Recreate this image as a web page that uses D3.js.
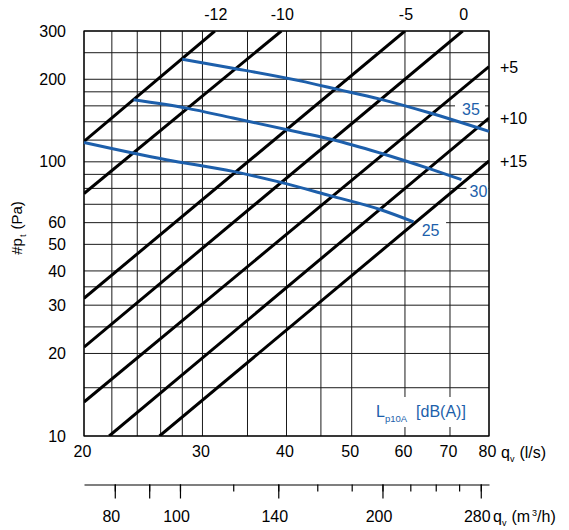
<!DOCTYPE html>
<html>
<head>
<meta charset="utf-8">
<script src="https://cdn.jsdelivr.net/npm/d3@7"></script>
<style>
body { margin: 0; background: #fff; }
text { font-family: "Liberation Sans", Arial, sans-serif; }
</style>
</head>
<body>
<svg id="chart" width="569" height="530"></svg>
<script>
// flow (l/s) and pressure (Pa) ticks / grid
const qTicks = [20, 30, 40, 50, 60, 70, 80]
const qGrid = [20, 22, 24, 26, 28, 30, 35, 40, 45, 50, 60, 70, 80]
const pTicks = [10, 20, 30, 40, 50, 60, 100, 200, 300]
const pGrid = [10, 15, 20, 25, 30, 35, 40, 50, 60, 70, 80, 90, 100, 120, 140, 160, 180, 200, 250, 300]
// second axis in m3/h
const m3Ticks = [80, 90, 100, 120, 140, 160, 180, 200, 220, 240, 260, 280]
const m3Major = [80, 90, 100, 140, 200, 280]
const m3Labels = [80, 100, 140, 200, 280]

// damper setting lines, [q, dp] start and end
const damperNames = ["-12", "-10", "-5", "0", "+5", "+10", "+15"]
const damperStart = [[20, 118.7], [20, 76.6], [20, 31.8], [20, 21.1], [20, 13.3], [21.8, 10], [25.9, 10]]
const damperEnd = [[31.3, 300], [39.3, 300], [60.0, 300], [73.1, 300], [80, 222.5], [80, 144.4], [80, 100.7]]

// sound level curves Lp10A
const soundNames = ["35", "30", "25"]
const sound35 = [[28.0, 236.6], [33.3, 219.5], [41.9, 197.3], [47.5, 184.1], [55.1, 169.3], [65.4, 150.6], [80, 129.1]]
const sound30 = [[23.7, 168.3], [28.4, 157.0], [33.3, 144.4], [41.9, 128.0], [46.9, 120.4], [55.1, 107.7], [65.4, 94.2], [72.8, 86.1]]
const sound25 = [[20, 117.7], [26.5, 101.8], [33.3, 92.3], [39.1, 84.3], [46.4, 75.3], [55.1, 67.0], [61.8, 60.4]]

const blue = "#1d5fab"
const fs = 16
const svg = d3.select("#chart")
const L = 84, R = 489, T = 31, B = 436

const x = d3.scaleLog().domain([20, 80]).range([L, R])
const y = d3.scaleLog().domain([10, 300]).range([B, T])
const x3 = d3.scaleLog().domain([20 * 3.6, 80 * 3.6]).range([L, R])

svg.append("clipPath").attr("id", "plot")
  .append("rect").attr("x", L).attr("y", T).attr("width", R - L).attr("height", B - T)

// grid
const grid = svg.append("g").attr("stroke", "#1a1a1a").attr("stroke-width", 1)
grid.selectAll(".vg").data(qGrid).join("line")
  .attr("x1", d => x(d)).attr("x2", d => x(d))
  .attr("y1", T).attr("y2", B)
grid.selectAll(".hg").data(pGrid).join("line")
  .attr("y1", d => y(d)).attr("y2", d => y(d))
  .attr("x1", L).attr("x2", R)

// white boxes under the blue labels
const boxes = svg.append("g").attr("fill", "#fff")
const labelOff = [[-18, -22], [17, 11], [17, 8]]
const curves = [sound35, sound30, sound25]
const boxW = [30, 22, 33]
curves.forEach((c, i) => {
  const e = c[c.length - 1]
  const cx = x(e[0]) + labelOff[i][0], cy = y(e[1]) + labelOff[i][1]
  boxes.append("rect")
    .attr("x", cx - boxW[i] / 2 - 1).attr("y", cy - 9)
    .attr("width", boxW[i]).attr("height", 18)
})
boxes.append("rect").attr("x", 368).attr("y", 397).attr("width", 106).attr("height", 30)

// frame
svg.append("rect").attr("x", L).attr("y", T).attr("width", R - L).attr("height", B - T)
  .attr("fill", "none").attr("stroke", "#000").attr("stroke-width", 1.2)

// damper lines
const line = d3.line().x(d => x(d[0])).y(d => y(d[1]))
const dampers = svg.append("g").attr("clip-path", "url(#plot)")
damperNames.forEach((n, i) => {
  dampers.append("path")
    .attr("d", line([damperStart[i], damperEnd[i]]))
    .attr("fill", "none").attr("stroke", "#000").attr("stroke-width", 3)
})
damperNames.forEach((n, i) => {
  const e = damperEnd[i]
  if (e[1] >= 300) {
    svg.append("text").attr("x", x(e[0]) + 1).attr("y", 20)
      .attr("text-anchor", "middle").attr("font-size", fs).text(n)
  } else {
    svg.append("text").attr("x", 500).attr("y", y(e[1]) + 6)
      .attr("font-size", fs).text(n)
  }
})

// sound curves
const curve = d3.line().x(d => x(d[0])).y(d => y(d[1])).curve(d3.curveMonotoneX)
curves.forEach((c, i) => {
  svg.append("path").attr("d", curve(c))
    .attr("fill", "none").attr("stroke", blue).attr("stroke-width", 3)
  const e = c[c.length - 1]
  svg.append("text")
    .attr("x", x(e[0]) + labelOff[i][0]).attr("y", y(e[1]) + labelOff[i][1] + 6)
    .attr("text-anchor", "middle").attr("font-size", fs).attr("fill", blue)
    .text(soundNames[i])
})

// legend
const lg = svg.append("text").attr("x", 376).attr("y", 417).attr("font-size", 16).attr("fill", blue)
lg.append("tspan").text("L")
lg.append("tspan").attr("font-size", 9.5).attr("dy", 5).text("p10A")
lg.append("tspan").attr("dy", -5).attr("dx", 9).text("[dB(A)]")

// axes
const xAxis = svg.append("g").attr("transform", `translate(-2,${B})`)
  .call(d3.axisBottom(x).tickValues(qTicks).tickSize(0).tickPadding(10).tickFormat(d3.format("d")))
xAxis.select(".domain").remove()
xAxis.selectAll("text").attr("font-size", fs).attr("font-family", null).attr("fill", "#000")

const yAxis = svg.append("g").attr("transform", `translate(${L},0)`)
  .call(d3.axisLeft(y).tickValues(pTicks).tickSize(0).tickPadding(18).tickFormat(d3.format("d")))
yAxis.select(".domain").remove()
yAxis.selectAll("text").attr("font-size", fs).attr("font-family", null).attr("fill", "#000")

const m3y = 484.5
const minor = svg.append("g").attr("transform", `translate(0,${m3y})`)
  .call(d3.axisBottom(x3).tickValues(m3Ticks).tickSizeInner(7).tickSizeOuter(0).tickFormat(""))
const major = svg.append("g").attr("transform", `translate(0,${m3y})`)
  .call(d3.axisBottom(x3).tickValues(m3Major).tickSizeInner(14).tickSizeOuter(0).tickPadding(12)
    .tickFormat(d => m3Labels.includes(d) ? d : ""))
major.select(".domain").remove()
svg.selectAll(".domain").attr("stroke", "#000").attr("stroke-width", 1.2)
svg.selectAll(".tick line").attr("stroke-width", 1.2)
major.selectAll("text").attr("font-size", fs).attr("font-family", null).attr("fill", "#000").attr("dx", -4)

// axis titles
const xt = svg.append("text").attr("x", 501).attr("y", 458).attr("font-size", fs)
xt.append("tspan").text("q")
xt.append("tspan").attr("font-size", 9).attr("dy", 4).text("v")
xt.append("tspan").attr("dy", -4).attr("dx", 5).text("(l/s)")

const mt = svg.append("text").attr("x", 493).attr("y", 522).attr("font-size", fs)
mt.append("tspan").text("q")
mt.append("tspan").attr("font-size", 9).attr("dy", 4).text("v")
mt.append("tspan").attr("dy", -4).attr("dx", 5).text("(m")
mt.append("tspan").attr("font-size", 9).attr("dy", -6).attr("dx", 2).text("3")
mt.append("tspan").attr("dy", 6).text("/h)")

const yt = svg.append("text").attr("transform", "translate(22,228) rotate(-90)")
  .attr("text-anchor", "middle").attr("font-size", 15)
yt.append("tspan").text("#p")
yt.append("tspan").attr("font-size", 9).attr("dy", 4).attr("dx", 1).text("t")
yt.append("tspan").attr("dy", -4).attr("dx", 5).text("(Pa)")
</script>
</body>
</html>
